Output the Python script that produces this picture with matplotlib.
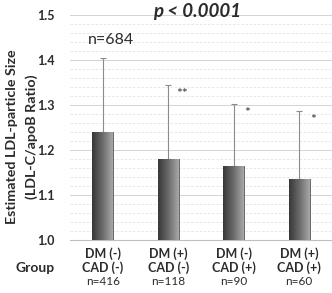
import numpy as np
import matplotlib
matplotlib.use('Agg')
import matplotlib.pyplot as plt
from matplotlib.colors import LinearSegmentedColormap
from matplotlib.patches import Rectangle

plt.rcParams['font.family'] = ['Lato', 'DejaVu Sans']
plt.rcParams['text.color'] = '#2b2b2b'
plt.rcParams['xtick.color'] = '#2b2b2b'
plt.rcParams['ytick.color'] = '#2b2b2b'

# Datos
grupos = ['DM (-)\nCAD (-)', 'DM (+)\nCAD (-)', 'DM (-)\nCAD (+)', 'DM (+)\nCAD (+)']
n_grupo = ['n=416', 'n=118', 'n=90', 'n=60']
medias = [1.241, 1.180, 1.165, 1.135]
desvios = [0.163, 0.164, 0.137, 0.152]
estrellas = ['', '**', '*', '*']

fig = plt.figure(figsize=(3.32, 2.93), dpi=100)
ax = fig.add_axes([70 / 332, 53 / 293, 262 / 332, 225 / 293])

x = np.arange(len(medias))
ancho = 0.32
cmap = LinearSegmentedColormap.from_list('gris', ['#383838', '#6a6a6a', '#a8a8a8'])
grad = np.linspace(0, 1, 64).reshape(1, -1)

# Barras con degradado
barras = ax.bar(x, np.array(medias) - 1.0, bottom=1.0, width=ancho, color='none', zorder=3)
for b in barras:
    x0, y0, w, h = b.get_x(), b.get_y(), b.get_width(), b.get_height()
    im = ax.imshow(grad, extent=[x0, x0 + w, y0, y0 + h], aspect='auto', cmap=cmap, zorder=3)
    im.set_clip_path(Rectangle((x0, y0), w, h, transform=ax.transData))
    ax.plot([x0 + w, x0 + w], [y0, y0 + h], color='#505050', lw=0.6, zorder=4)

# Barras de error (solo hacia arriba)
ax.errorbar(x, medias, yerr=[np.zeros(4), desvios], fmt='none', ecolor='#8c8c8c',
            elinewidth=0.8, capsize=2, capthick=0.8, zorder=2)

for i, s in enumerate(estrellas):
    if s:
        ax.text(x[i] + 0.21, medias[i] + desvios[i] - 0.02, s, ha='center', va='center',
                fontsize=10, color='#333333')

ax.set_xlim(-0.5, 3.5)
ax.set_ylim(1.0, 1.5)
ax.set_yticks([1.0, 1.1, 1.2, 1.3, 1.4, 1.5])
ax.set_yticklabels(['1.0', '1.1', '1.2', '1.3', '1.4', '1.5'], fontsize=9, fontweight='bold')
ax.set_yticks(np.arange(1.0, 1.5, 0.02), minor=True)
ax.grid(True, axis='y', which='major', color='#d4d4d4', lw=0.7, zorder=0)
ax.grid(True, axis='y', which='minor', color='#e4e4e4', lw=0.6, ls=(0, (3, 2)), zorder=0)
ax.tick_params(axis='y', which='both', length=0, pad=11)
ax.set_xticks(x)
ax.set_xticklabels(grupos, fontsize=9, fontweight='bold', linespacing=1.2)
ax.tick_params(axis='x', length=0, pad=5)
for s in ['top', 'right', 'left']:
    ax.spines[s].set_visible(False)
ax.spines['bottom'].set_color('#bfbfbf')

for i, n in enumerate(n_grupo):
    ax.text(x[i], -0.185, n, transform=ax.get_xaxis_transform(), ha='center', va='center', fontsize=8.5)

fig.text(35 / 332, 1 - 268 / 293, 'Group', ha='center', va='center', fontsize=10, fontweight='bold')
fig.text(12 / 332, 1 - 137 / 293, 'Estimated LDL-particle Size', rotation=90,
         ha='center', va='center', fontsize=10.3, fontweight='bold')
fig.text(32 / 332, 1 - 137 / 293, '(LDL-C/apoB Ratio)', rotation=90,
         ha='center', va='center', fontsize=10.3, fontweight='bold')
fig.text(197 / 332, 1 - 12 / 293, 'p < 0.0001', ha='center', va='center', fontsize=13.5,
         fontweight='bold', fontstyle='italic')
ax.text(x[0] + 0.13, 1.444, 'n=684', ha='center', va='center', fontsize=11.5)

fig.savefig('out.png', dpi=100)
